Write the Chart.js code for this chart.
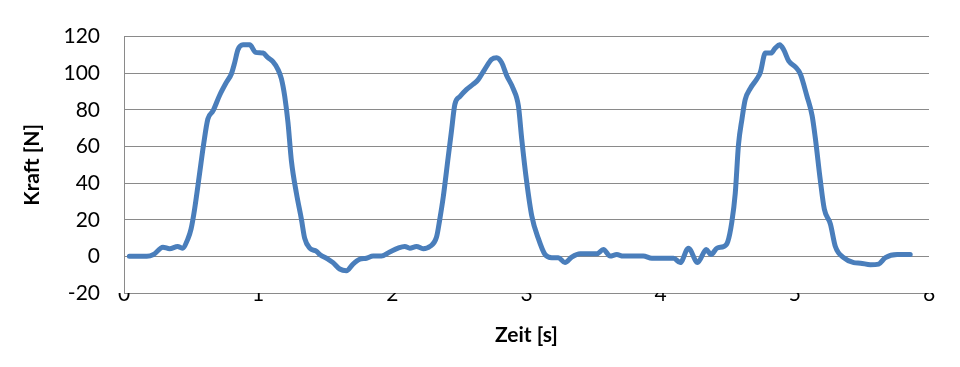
<!DOCTYPE html>
<html>
<head>
<meta charset="utf-8">
<script src="https://cdn.jsdelivr.net/npm/chart.js@4"></script>
<style>
  html, body { margin: 0; padding: 0; background: #ffffff; }
  #wrap { width: 960px; height: 367px; position: relative; }
</style>
</head>
<body>
<div id="wrap"><canvas id="c" width="960" height="367"></canvas></div>
<script>
// Time in seconds (x) and force in newtons (y)
const timeValues = [
  0.04, 0.17, 0.22, 0.29, 0.34, 0.40, 0.434, 0.476, 0.50, 0.526, 0.563, 0.593, 0.625, 0.663, 0.713, 0.763, 0.80, 0.825, 0.849, 0.887, 0.937, 0.981,
  1.036, 1.073, 1.11, 1.148, 1.173, 1.198, 1.222, 1.248, 1.285, 1.322, 1.347, 1.384, 1.434, 1.459, 1.52, 1.558, 1.608, 1.658, 1.707, 1.757, 1.807, 1.857, 1.919, 1.981,
  2.043, 2.093, 2.13, 2.18, 2.23, 2.28, 2.33, 2.354, 2.38, 2.416, 2.44, 2.466, 2.504, 2.554, 2.603, 2.64, 2.69, 2.74, 2.778, 2.815, 2.852, 2.90, 2.94, 2.964,
  3.0, 3.039, 3.088, 3.138, 3.188, 3.237, 3.287, 3.337, 3.40, 3.474, 3.524, 3.573, 3.623, 3.673, 3.72, 3.87, 3.934,
  4.096, 4.146, 4.207, 4.275, 4.34, 4.375, 4.42, 4.47, 4.50, 4.53, 4.556, 4.58, 4.606, 4.63, 4.668, 4.718, 4.743, 4.78, 4.822, 4.854, 4.887, 4.917, 4.954,
  5.004, 5.041, 5.091, 5.129, 5.153, 5.19, 5.22, 5.265, 5.302, 5.364, 5.439, 5.489, 5.563, 5.625, 5.675, 5.763, 5.86
];
const forceValues = [
  0, 0, 1, 5, 4.2, 5.4, 4.5, 9.5, 15, 25.7, 45, 61, 75, 79.4, 88, 95, 99.6, 105.8, 112.8, 115.5, 115.5, 111.4,
  111, 108.5, 106.3, 102, 97, 87.3, 73.2, 52, 34.5, 20.4, 9.8, 4.5, 2.8, 1, -1.5, -3.4, -6.9, -7.8, -4.2, -1.6, -1, 0.2, 0.2, 2.4,
  4.5, 5.4, 4.5, 5.4, 4.2, 5.4, 10.7, 20.4, 32.7, 54, 68, 83, 87.3, 91.2, 94, 96.5, 102.3, 107.6, 108.5, 105.8, 98.8, 91.7, 82, 64.4,
  41.5, 22.2, 9.8, 1, -0.7, -0.7, -3.4, -0.4, 1.4, 1.4, 1.4, 3.7, 0.2, 1, 0.2, 0.2, -1,
  -1, -3.4, 4.5, -3.4, 3.7, 1, 4.5, 5.4, 8, 18.6, 34.5, 61, 75, 85.6, 91.7, 97, 100.5, 111, 111, 113.7, 115.5, 112.8, 106.7,
  103.5, 99.6, 87.3, 76.8, 64.4, 41.5, 25.7, 17.7, 5.4, -0.7, -3.4, -3.7, -4.6, -4.2, -0.7, 1, 1
];
const xAxisTitle = 'Zeit [s]';
const yAxisTitle = 'Kraft [N]';
const xTickValues = [0, 1, 2, 3, 4, 5, 6];
const yTickValues = [-20, 0, 20, 40, 60, 80, 100, 120];

const points = timeValues.map((t, i) => ({ x: t, y: forceValues[i] }));
const FONT = 'Lato, "Open Sans", "DejaVu Sans", sans-serif';
const GRID = '#8a8a8a';

new Chart(document.getElementById('c'), {
  type: 'line',
  data: {
    datasets: [{
      data: points,
      borderColor: '#4a7ebb',
      borderWidth: 5,
      pointRadius: 0,
      fill: false,
      cubicInterpolationMode: 'monotone',
      borderCapStyle: 'round',
      borderJoinStyle: 'round'
    }]
  },
  options: {
    responsive: false,
    animation: false,
    devicePixelRatio: 1,
    layout: { padding: { top: 28, right: 31, bottom: 0, left: 0 } },
    plugins: { legend: { display: false }, tooltip: { enabled: false } },
    scales: {
      x: {
        type: 'linear',
        min: 0, max: 6,
        afterBuildTicks: (s) => { s.ticks = xTickValues.map(v => ({ value: v })); },
        afterFit: (s) => { s.height = 74; },
        grid: { display: false, drawTicks: false },
        border: { display: false },
        ticks: { color: '#000', font: { family: FONT, size: 21 }, padding: -11, maxRotation: 0, autoSkip: false },
        title: { display: true, text: xAxisTitle, color: '#000', font: { family: FONT, size: 21, weight: 'bold' }, padding: { top: 0, bottom: 19 } }
      },
      y: {
        type: 'linear',
        min: -20, max: 120,
        afterBuildTicks: (s) => { s.ticks = yTickValues.map(v => ({ value: v })); },
        afterFit: (s) => { s.width = 124; },
        grid: { color: GRID, lineWidth: 1, drawTicks: false },
        border: { display: true, color: GRID, width: 1 },
        ticks: { color: '#000', font: { family: FONT, size: 21 }, padding: 24 },
        title: { display: true, text: yAxisTitle, color: '#000', font: { family: FONT, size: 21, weight: 'bold' }, padding: { top: 20, bottom: 0 } }
      }
    }
  }
});
</script>
</body>
</html>
